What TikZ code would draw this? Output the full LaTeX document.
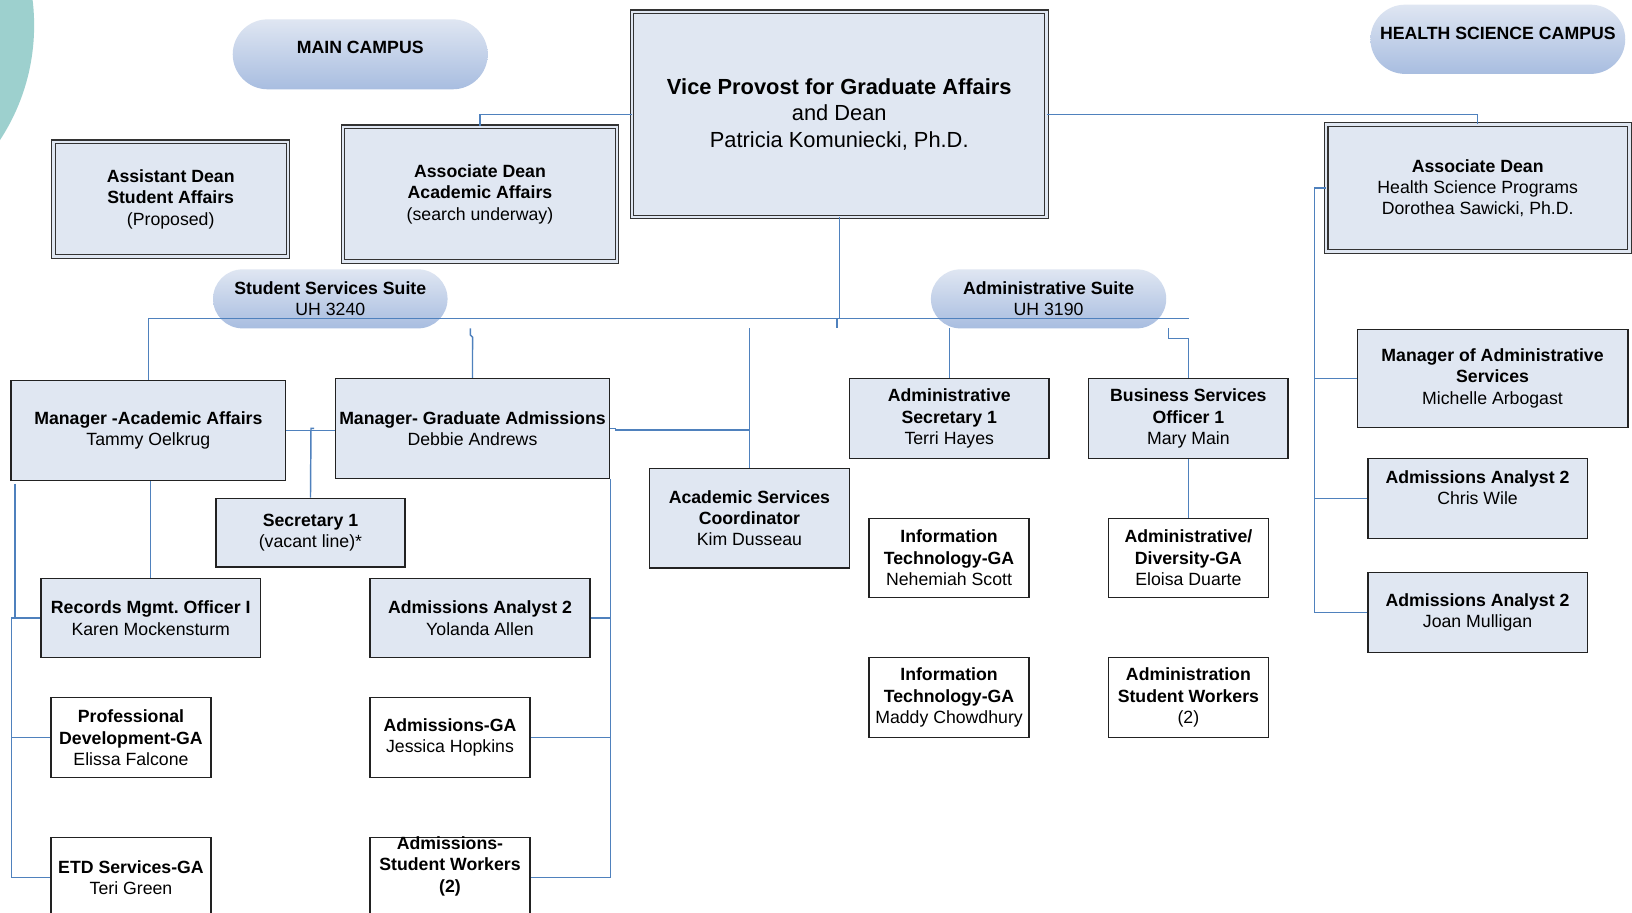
\documentclass[tikz,border=0pt]{standalone}
\usepackage{fontspec}
\setmainfont{Liberation Sans}
\usetikzlibrary{shapes.misc}
\frenchspacing
\definecolor{boxfill}{HTML}{E0E7F2}
\definecolor{linec}{HTML}{4F81BD}
\definecolor{edgec}{HTML}{222222}
\definecolor{dedge}{HTML}{333333}
\definecolor{pilltop}{HTML}{DFE6F2}
\definecolor{pillbot}{HTML}{A8BDE0}
\definecolor{tealdeco}{HTML}{9DD0CE}
\tikzset{
  sz/.style 2 args={minimum width=#1*0.5pt, minimum height=#2*0.5pt},
  base/.style={align=center, inner sep=1pt, font=\fontsize{8.5}{10.25}\selectfont, text=black},
  box/.style={base, draw=edgec, line width=0.75pt, fill=boxfill},
  wbox/.style={box, fill=white},
  dbox/.style={base, draw=dedge, line width=0.55pt, double=boxfill, double distance=1.2pt, fill=boxfill},
  pill/.style={base, rounded rectangle, top color=pilltop, bottom color=pillbot, draw=none},
  lbl/.style={base},
  conn/.style={draw=linec, line width=0.7pt},
}
\begin{document}
\begin{tikzpicture}[x=0.5pt,y=-0.5pt]
\useasboundingbox (0,0) rectangle (1568,877);
\clip (0,0) rectangle (1568,877);
\fill[white] (0,0) rectangle (1568,877);
\fill[tealdeco] (-168.4,24.4) circle [radius=100.6pt];

% campus pills
\node[pill, sz={249}{67.2}] (mainc) at (346.1,52.2) {};
\node[lbl] (maintxt) at (346.1,46) {\textbf{MAIN CAMPUS}};
\node[pill, sz={248.8}{66.5}] (hsc) at (1439.1,37.75) {};
\node[lbl] (hsctxt) at (1439.1,32) {\textbf{HEALTH SCIENCE CAMPUS}};

% top level
\node[dbox, sz={398.1}{197.1}, font=\fontsize{10.5}{12.8}\selectfont] (vp) at (806.35,109.85)
  {\textbf{Vice Provost for Graduate Affairs}\\and Dean\\Patricia Komuniecki, Ph.D.};
\node[dbox, sz={225.4}{110.3}] (asst) at (164,191.35) {\textbf{Assistant Dean}\\\textbf{Student Affairs}\\(Proposed)};
\node[dbox, sz={263.1}{129.6}] (assoc) at (461.15,186.6) {\textbf{Associate Dean}\\\textbf{Academic Affairs}\\(search underway)};
\node[dbox, sz={291.3}{121.9}] (hs) at (1419.75,180.75) {\textbf{Associate Dean}\\Health Science Programs\\Dorothea Sawicki, Ph.D.};

% suites
\node[pill, sz={229.3}{56.7}] (sss) at (317.35,287.15) {\textbf{Student Services Suite}\\UH 3240};
\node[pill, sz={230.1}{56.7}] (ads) at (1007.45,287.15) {\textbf{Administrative Suite}\\UH 3190};

% student services side
\node[box, sz={263.9}{96.1}] (maa) at (142.55,413.75) {\textbf{Manager -Academic Affairs}\\Tammy Oelkrug};
\node[box, sz={263.5}{95.8}] (mga) at (453.95,411.7) {\textbf{Manager- Graduate Admissions}\\Debbie Andrews};
\node[box, sz={181.8}{66.2}] (sec) at (298.3,511.9) {\textbf{Secretary 1}\\(vacant line)*};
\node[box, sz={210.5}{76.2}] (rmo) at (144.85,593.8) {\textbf{Records Mgmt. Officer I}\\Karen Mockensturm};
\node[box, sz={211.4}{76.2}] (aa2y) at (461.2,593.8) {\textbf{Admissions Analyst 2}\\Yolanda Allen};
\node[wbox, sz={153.7}{76.9}] (pdga) at (125.85,708.75) {\textbf{Professional}\\\textbf{Development-GA}\\Elissa Falcone};
\node[wbox, sz={153.7}{76.9}] (etd) at (125.85,843.25) {\textbf{ETD Services-GA}\\Teri Green};
\node[wbox, sz={153.7}{76.9}] (adga) at (432.35,708.75) {\textbf{Admissions-GA}\\Jessica Hopkins};
\node[wbox, sz={153.7}{76.9}] (asw) at (432.35,843.25) {};
\node[lbl] (aswtxt) at (432.35,832.4) {\textbf{Admissions-}\\\textbf{Student Workers}\\\textbf{(2)}};

% administrative side
\node[box, sz={192.1}{95.7}] (asc) at (720.05,497.85) {\textbf{Academic Services}\\\textbf{Coordinator}\\Kim Dusseau};
\node[box, sz={191.8}{76.9}] (as1) at (912,402.25) {\textbf{Administrative}\\\textbf{Secretary 1}\\Terri Hayes};
\node[box, sz={191.8}{76.9}] (bso) at (1141.8,402.25) {\textbf{Business Services}\\\textbf{Officer 1}\\Mary Main};
\node[wbox, sz={153.4}{76.2}] (it1) at (911.8,536.1) {\textbf{Information}\\\textbf{Technology-GA}\\Nehemiah Scott};
\node[wbox, sz={153.6}{76.2}] (adiv) at (1141.8,536.1) {\textbf{Administrative/}\\\textbf{Diversity-GA}\\Eloisa Duarte};
\node[wbox, sz={153.4}{76.5}] (it2) at (911.8,670.15) {\textbf{Information}\\\textbf{Technology-GA}\\Maddy Chowdhury};
\node[wbox, sz={153.6}{76.5}] (asw2) at (1141.8,670.15) {\textbf{Administration}\\\textbf{Student Workers}\\(2)};

% health science side
\node[box, sz={259.8}{94.2}] (mas) at (1434,363.5) {\textbf{Manager of Administrative}\\\textbf{Services}\\Michelle Arbogast};
\node[box, sz={211}{76.8}] (aa2c) at (1419.6,478.8) {};
\node[lbl] (aa2ctxt) at (1419.6,468.4) {\textbf{Admissions Analyst 2}\\Chris Wile};
\node[box, sz={211}{76.9}] (aa2j) at (1419.6,588.65) {\textbf{Admissions Analyst 2}\\Joan Mulligan};

% ---------- connectors ----------
\coordinate (busL) at (142.55,305.8);
\coordinate (busR) at (1142.4,305.8);
\coordinate (vpstub) at (804,305.8);
\coordinate (mgaTop) at (452,315.5);
\coordinate (ascTop) at (720.05,315.5);
\coordinate (as1Top) at (912,315.5);
\coordinate (bsoTop) at (1122.5,315.5);
\coordinate (sechook) at (301.9,411.5);
\coordinate (lsTop) at (14.5,465);
\coordinate (ls2) at (11,593.8);
\coordinate (hsSpine) at (1262.8,180.75);

\draw[conn] (vp.west) -| (assoc.north);
\draw[conn] (vp.east) -| (hs.north);
\draw[conn] (vp.south) -- (vp.south |- busL);
\draw[conn] (vpstub) -- ++(0,9.7);
\draw[conn] (busL) -- (busR);
\draw[conn] (busL) -- (maa.north);
\draw[conn] (mgaTop) -- ++(0,6.5) -- ++(2,2) -- (mga.north);
\draw[conn] (ascTop) -- (asc.north);
\draw[conn] (mga.east) -- ++(5,0) -- ++(0,1.5) -| (asc.north);
\draw[conn] (as1Top) -- (as1.north);
\draw[conn] (bsoTop) -- ++(0,9.5) -| (bso.north);
\draw[conn] (bso.south) -- (adiv.north);

\draw[conn] (maa.east) -- (maa.east -| mga.west);
\draw[conn] (sechook) -- ++(-3.1,0) -- (sec.north);
\draw[conn] (rmo.north) -- (rmo.north |- maa.south);

\draw[conn] (lsTop) -- (lsTop |- rmo.west);
\draw[conn] (ls2) -- (rmo.west);
\draw[conn] (ls2) |- (etd.west);
\draw[conn] (ls2 |- pdga.west) -- (pdga.west);

\draw[conn] (mga.south east) |- (asw.east);
\draw[conn] (aa2y.east) -- (aa2y.east -| mga.south east);
\draw[conn] (adga.east) -- (adga.east -| mga.south east);

\draw[conn] (hs.west) -- (hsSpine) |- (aa2j.west);
\draw[conn] (hsSpine |- mas.west) -- (mas.west);
\draw[conn] (hsSpine |- aa2c.west) -- (aa2c.west);
\end{tikzpicture}
\end{document}
